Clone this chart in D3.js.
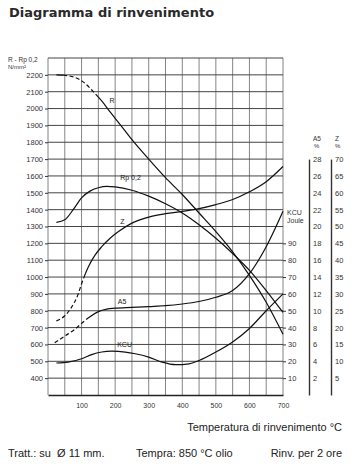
<!DOCTYPE html>
<html>
<head>
<meta charset="utf-8">
<script src="https://cdn.jsdelivr.net/npm/d3@7"></script>
<style>
  body { margin: 0; background: #fff; }
  svg { display: block; }
  .tick text { font-family: "Liberation Sans", Arial, sans-serif; fill: #333; }
</style>
</head>
<body>
<script>
// Size of the page
var width = 352;
var height = 474;

// Curve data (temperature in °C)
var rTemp  = [25, 45, 80, 110, 135, 160, 185, 215, 250, 300, 350, 400, 450, 500, 550, 600, 650, 700];
var rVal   = [2200, 2198, 2185, 2150, 2100, 2045, 1980, 1905, 1815, 1700, 1590, 1490, 1380, 1270, 1150, 1010, 850, 660];

var rpTemp = [25, 50, 75, 100, 125, 150, 175, 200, 250, 300, 350, 400, 450, 500, 550, 600, 650, 700];
var rpVal  = [1325, 1340, 1400, 1470, 1510, 1530, 1538, 1535, 1515, 1480, 1435, 1380, 1310, 1230, 1140, 1040, 920, 790];

var zTemp  = [25, 50, 70, 90, 100, 120, 140, 160, 185, 210, 250, 300, 350, 400, 450, 500, 550, 600, 650, 700];
var zVal   = [22, 23.5, 26, 30, 33, 38, 41.5, 44, 46.5, 48.5, 51, 52.8, 53.8, 54.5, 55.3, 56.5, 58, 60.3, 63.3, 67.8];

var a5Temp = [20, 50, 80, 100, 125, 150, 175, 200, 250, 300, 350, 400, 450, 500, 550, 600, 650, 700];
var a5Val  = [6.2, 7, 7.8, 8.5, 9.3, 9.9, 10.2, 10.3, 10.4, 10.5, 10.6, 10.8, 11.1, 11.6, 12.4, 14.4, 17.6, 21.8];

var kcuTemp = [25, 60, 100, 130, 160, 190, 230, 260, 300, 340, 380, 420, 450, 500, 550, 600, 650, 700];
var kcuVal  = [19, 19.5, 21.5, 24, 25.5, 26, 25.5, 24.5, 22.5, 19.5, 18, 18.5, 20.5, 25.5, 31.5, 39.5, 50, 60];

// Dashed stretches [from, to] in °C
var rDash  = [45, 135];
var zDash  = [25, 100];
var a5Dash = [20, 100];

// Tick values
var tempTicks = [100, 200, 300, 400, 500, 600, 700];
var nTicks    = d3.range(400, 2201, 100);
var kcuTicks  = d3.range(10, 91, 10);
var a5Ticks   = d3.range(2, 29, 2);
var zTicks    = d3.range(5, 71, 5);

// Scales
var x = d3.scaleLinear().domain([0, 700]).range([48, 283]);
var yN = d3.scaleLinear().domain([300, 2300]).range([395, 58]);
var yK = d3.scaleLinear().domain([0, 100]).range([yN(300), yN(1300)]);
var yA5 = d3.scaleLinear().domain([0, 28]).range([yN(300), yN(1700)]);
var yZ = d3.scaleLinear().domain([0, 70]).range([yN(300), yN(1700)]);
var fmt = d3.format("d");

var svg = d3.select("body").append("svg")
    .attr("width", width)
    .attr("height", height)
    .style("font-family", "'Liberation Sans', Arial, sans-serif");

// Title
svg.append("text")
    .attr("x", 9).attr("y", 17)
    .style("font-family", "'DejaVu Sans', sans-serif")
    .style("font-weight", "bold")
    .style("font-size", "13px")
    .attr("fill", "#2a2a2a")
    .text("Diagramma di rinvenimento");

// Grid
var grid = svg.append("g");
grid.selectAll("line.v")
    .data(d3.range(0, 701, 50))
    .enter().append("line")
    .attr("x1", function(d) { return x(d); })
    .attr("x2", function(d) { return x(d); })
    .attr("y1", yN(2300)).attr("y2", yN(300))
    .attr("stroke", "#666").attr("stroke-width", 0.8);

grid.selectAll("line.h")
    .data(d3.range(400, 2301, 100))
    .enter().append("line")
    .attr("x1", x(0)).attr("x2", x(700))
    .attr("y1", function(d) { return yN(d); })
    .attr("y2", function(d) { return yN(d); })
    .attr("stroke", "#444").attr("stroke-width", 1);

// Left axis
var leftAxis = svg.append("g")
    .attr("transform", "translate(" + x(0) + ",0)")
    .call(d3.axisLeft(yN).tickValues(nTicks).tickFormat(fmt).tickSize(3).tickPadding(2).tickSizeOuter(0));
leftAxis.select(".domain").remove();
leftAxis.selectAll(".tick line").attr("stroke", "#333");
leftAxis.selectAll(".tick text").style("font-size", "7.5px");

svg.append("text").attr("x", 8).attr("y", 62)
    .style("font-size", "6.5px").attr("fill", "#333")
    .text("R - Rp 0,2");
svg.append("text").attr("x", 8).attr("y", 69)
    .style("font-size", "6px").attr("fill", "#333")
    .text("N/mm²");

// Bottom axis
var bottomAxis = svg.append("g")
    .attr("transform", "translate(0," + yN(300) + ")")
    .call(d3.axisBottom(x).tickValues(tempTicks).tickSize(0).tickPadding(8).tickSizeOuter(0));
bottomAxis.select(".domain").attr("stroke", "#222").attr("stroke-width", 1.3);
bottomAxis.selectAll(".tick text").style("font-size", "7px");

// KCU axis on the right edge of the grid
var kcuAxis = svg.append("g")
    .attr("transform", "translate(" + x(700) + ",0)")
    .call(d3.axisRight(yK).tickValues(kcuTicks).tickSize(3).tickPadding(2).tickSizeOuter(0));
kcuAxis.select(".domain").remove();
kcuAxis.selectAll(".tick line").attr("stroke", "#333");
kcuAxis.selectAll(".tick text").style("font-size", "7.5px");
svg.append("text").attr("x", 287).attr("y", 215).style("font-size", "7px").attr("fill", "#333").text("KCU");
svg.append("text").attr("x", 287).attr("y", 223).style("font-size", "7px").attr("fill", "#333").text("Joule");

// A5 and Z axes
var a5Axis = svg.append("g")
    .attr("transform", "translate(309,0)")
    .call(d3.axisRight(yA5).tickValues(a5Ticks).tickSize(0).tickPadding(4).tickSizeOuter(0));
a5Axis.select(".domain").attr("stroke", "#333").attr("stroke-width", 1.4);
a5Axis.selectAll(".tick text").style("font-size", "7.5px");

var zAxis = svg.append("g")
    .attr("transform", "translate(331,0)")
    .call(d3.axisRight(yZ).tickValues(zTicks).tickSize(0).tickPadding(4).tickSizeOuter(0));
zAxis.select(".domain").attr("stroke", "#333").attr("stroke-width", 1.4);
zAxis.selectAll(".tick text").style("font-size", "7.5px");

svg.append("text").attr("x", 313).attr("y", 141).style("font-size", "6.5px").attr("fill", "#333").text("A5");
svg.append("text").attr("x", 314).attr("y", 148).style("font-size", "6px").attr("fill", "#333").text("%");
svg.append("text").attr("x", 335).attr("y", 141).style("font-size", "6.5px").attr("fill", "#333").text("Z");
svg.append("text").attr("x", 335).attr("y", 148).style("font-size", "6px").attr("fill", "#333").text("%");

// Curves
function drawCurve(temps, vals, yScale, dash) {
    var pts = temps.map(function(t, i) { return [x(t), yScale(vals[i])]; });
    var line = d3.line().curve(d3.curveMonotoneX);
    var path = svg.append("path")
        .attr("d", line(pts))
        .attr("fill", "none")
        .attr("stroke", "#111")
        .attr("stroke-width", 1.2);
    if (dash) {
        var node = path.node();
        var total = node.getTotalLength();
        // find lengths where the dashed stretch begins and ends
        function lengthAt(px) {
            var lo = 0, hi = total;
            for (var k = 0; k < 40; k++) {
                var mid = (lo + hi) / 2;
                if (node.getPointAtLength(mid).x < px) lo = mid; else hi = mid;
            }
            return lo;
        }
        var l1 = lengthAt(x(dash[0]));
        var l2 = lengthAt(x(dash[1]));
        var arr = [l1, 0];
        var pos = l1;
        while (pos < l2) {
            arr.push(4, 2.5);
            pos += 6.5;
        }
        arr.push(total + 10, 0);
        path.attr("stroke-dasharray", arr.join(" "));
    }
}

drawCurve(rTemp, rVal, yN, rDash);
drawCurve(rpTemp, rpVal, yN, null);
drawCurve(zTemp, zVal, yZ, zDash);
drawCurve(a5Temp, a5Val, yA5, a5Dash);
drawCurve(kcuTemp, kcuVal, yK, null);

// Curve labels
var labels = [
    {t: "R", tx: 183, v: 2030},
    {t: "Rp 0,2", tx: 215, v: 1575},
    {t: "Z", tx: 215, v: 1315},
    {t: "A5", tx: 208, v: 840},
    {t: "KCU", tx: 206, v: 585}
];
svg.selectAll("text.curve-label")
    .data(labels)
    .enter().append("text")
    .attr("class", "curve-label")
    .attr("x", function(d) { return x(d.tx); })
    .attr("y", function(d) { return yN(d.v); })
    .style("font-size", "7px")
    .attr("fill", "#222")
    .text(function(d) { return d.t; });

// Footer texts
svg.append("text").attr("x", 342).attr("y", 431)
    .attr("text-anchor", "end").style("font-size", "11px").attr("fill", "#222")
    .text("Temperatura di rinvenimento °C");
svg.append("text").attr("x", 8).attr("y", 457)
    .style("font-size", "11px").attr("fill", "#222")
    .text("Tratt.: su \u00a0Ø 11 mm.");
svg.append("text").attr("x", 136).attr("y", 457)
    .style("font-size", "11px").attr("fill", "#222")
    .text("Tempra: 850 °C olio");
svg.append("text").attr("x", 342).attr("y", 457)
    .attr("text-anchor", "end").style("font-size", "11px").attr("fill", "#222")
    .text("Rinv. per 2 ore");
</script>
</body>
</html>
